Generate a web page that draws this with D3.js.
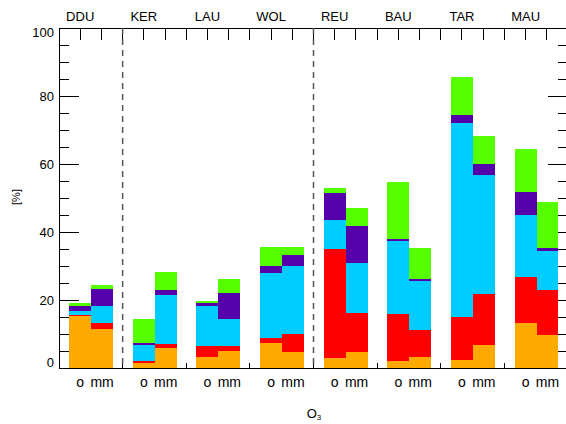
<!DOCTYPE html>
<html>
<head>
<meta charset="utf-8">
<script src="https://cdn.jsdelivr.net/npm/d3@7"></script>
<style>
  html, body { margin: 0; padding: 0; background: #fff; }
  svg { display: block; }
  text { font-family: "Liberation Sans", Arial, sans-serif; fill: #000; }
</style>
</head>
<body>
<svg id="chart" width="566" height="424"></svg>
<script>
// Stations along the x axis, two bars each ("o" and "mm")
const stations = ["DDU", "KER", "LAU", "WOL", "REU", "BAU", "TAR", "MAU"];
const variants = ["o", "mm"];

// Stacked contributions [%], bottom to top; order per station: o, mm
const seriesKeys = ["s1", "s2", "s3", "s4", "s5"];
const s1 = [15.2, 11.6, 1.6, 5.8, 3.2, 5.0, 7.5, 4.7, 3.0, 4.6, 2.2, 3.3, 2.3, 6.8, 13.3, 9.6];
const s2 = [0.3, 1.5, 0.4, 1.3, 3.3, 1.5, 1.4, 5.3, 31.9, 11.7, 13.7, 7.8, 12.8, 15.0, 13.6, 13.2];
const s3 = [1.4, 5.2, 4.9, 14.4, 11.8, 8.0, 19.1, 20.1, 8.7, 14.6, 21.6, 14.6, 57.1, 35.1, 18.2, 11.5];
const s4 = [1.4, 4.9, 0.6, 1.3, 0.7, 7.6, 2.1, 3.0, 8.0, 11.0, 0.3, 0.4, 2.1, 3.1, 6.6, 1.0];
const s5 = [0.7, 1.3, 6.9, 5.5, 0.7, 4.2, 5.6, 2.6, 1.4, 5.2, 17.0, 9.3, 11.2, 8.3, 12.8, 13.6];
const seriesColors = ["#ffaa00", "#ff0000", "#00ccff", "#5500aa", "#55ff00"];

// Y axis ticks
const yMajor = [0, 20, 40, 60, 80, 100];
const yMinor = d3.range(0, 101, 5);

// Dashed separators between station groups
const separators = [1, 4];

const svg = d3.select("#chart");
const plotLeft = 59, plotRight = 568, plotTop = 28, plotBottom = 368;

const x = d3.scaleLinear().domain([0, stations.length]).range([plotLeft, plotRight]);
const y = d3.scaleLinear().domain([0, 100]).range([plotBottom, plotTop]);

// Build rows for stacking
const rows = [];
stations.forEach((st, i) => {
  variants.forEach((v, j) => {
    const k = i * variants.length + j;
    rows.push({ station: st, idx: i, variant: v, vi: j,
      s1: s1[k], s2: s2[k], s3: s3[k], s4: s4[k], s5: s5[k] });
  });
});
const stacked = d3.stack().keys(seriesKeys)(rows);

// Bar horizontal extent within a group
const barOffsets = [[0.16, 0.505], [0.505, 0.85]];

const axisG = svg.append("g").attr("stroke", "#000").attr("stroke-width", 1).attr("shape-rendering", "crispEdges");

// Frame lines
axisG.append("line").attr("x1", plotLeft).attr("x2", plotRight).attr("y1", plotTop).attr("y2", plotTop);
axisG.append("line").attr("x1", plotLeft).attr("x2", plotRight).attr("y1", plotBottom).attr("y2", plotBottom);
axisG.append("line").attr("x1", plotLeft).attr("x2", plotLeft).attr("y1", plotTop).attr("y2", plotBottom);
axisG.append("line").attr("x1", plotRight).attr("x2", plotRight).attr("y1", plotTop).attr("y2", plotBottom);

// Y ticks, left and right
yMinor.forEach(v => {
  const len = yMajor.includes(v) ? 20 : 10;
  axisG.append("line").attr("x1", plotLeft).attr("x2", plotLeft + len).attr("y1", y(v)).attr("y2", y(v));
  axisG.append("line").attr("x1", plotRight).attr("x2", plotRight - len).attr("y1", y(v)).attr("y2", y(v));
});

// X ticks at thirds of each group
const xTicks = d3.range(0, stations.length * 3 + 1).map(t => t / 3);
xTicks.forEach(t => {
  axisG.append("line").attr("x1", x(t)).attr("x2", x(t)).attr("y1", plotTop).attr("y2", plotTop + 12);
  axisG.append("line").attr("x1", x(t)).attr("x2", x(t)).attr("y1", plotBottom).attr("y2", plotBottom - 5);
});

// Separators
svg.append("g").selectAll("line").data(separators).join("line")
  .attr("x1", d => x(d)).attr("x2", d => x(d))
  .attr("y1", plotTop).attr("y2", plotBottom)
  .attr("stroke", "#555").attr("stroke-width", 1.5)
  .attr("stroke-dasharray", "6,5");

// Stacked bars
svg.append("g").attr("shape-rendering", "crispEdges")
  .selectAll("g").data(stacked).join("g")
  .attr("fill", (d, i) => seriesColors[i])
  .selectAll("rect").data(d => d).join("rect")
  .attr("x", d => x(d.data.idx + barOffsets[d.data.vi][0]))
  .attr("width", d => x(d.data.idx + barOffsets[d.data.vi][1]) - x(d.data.idx + barOffsets[d.data.vi][0]))
  .attr("y", d => y(d[1]))
  .attr("height", d => y(d[0]) - y(d[1]));

// Y tick labels (end labels nudged inside the frame)
svg.append("g").selectAll("text").data(yMajor).join("text")
  .attr("x", 54)
  .attr("y", d => y(d) + (d === 0 ? -6 : d === 100 ? 4.5 : 0))
  .attr("text-anchor", "end")
  .attr("dominant-baseline", "central")
  .attr("font-size", 13)
  .text(d => d);

// Station labels on top
svg.append("g").selectAll("text").data(stations).join("text")
  .attr("x", (d, i) => x(i + 1 / 3))
  .attr("y", 21)
  .attr("text-anchor", "middle")
  .attr("font-size", 13)
  .text(d => d);

// Variant labels under each bar
svg.append("g").selectAll("text").data(rows).join("text")
  .attr("x", d => x(d.idx + (barOffsets[d.vi][0] + barOffsets[d.vi][1]) / 2))
  .attr("y", 387)
  .attr("text-anchor", "middle")
  .attr("font-size", 14)
  .text(d => d.variant);

// Axis titles
svg.append("text")
  .attr("transform", "translate(20,197) rotate(-90)")
  .attr("text-anchor", "middle")
  .attr("font-size", 11)
  .text("[%]");

const xt = svg.append("text")
  .attr("x", 314).attr("y", 418)
  .attr("text-anchor", "middle")
  .attr("font-size", 13);
xt.append("tspan").text("O");
xt.append("tspan").attr("font-size", 8).attr("dy", 2).text("3");
</script>
</body>
</html>
